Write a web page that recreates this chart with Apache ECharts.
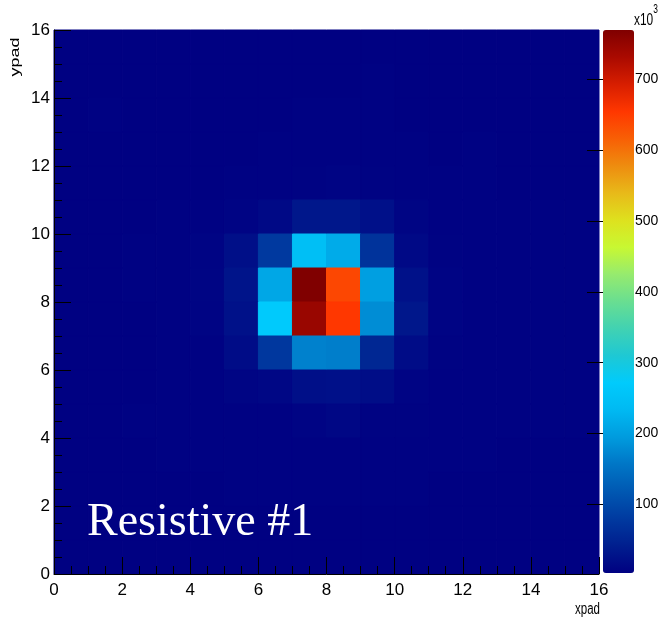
<!DOCTYPE html>
<html><head><meta charset="utf-8">
<script src="https://cdn.jsdelivr.net/npm/echarts@6/dist/echarts.min.js"></script>
<style>html,body{margin:0;padding:0;background:#fff}#c{width:660px;height:627px}</style>
</head><body><div id="c"></div><script>
// bin edges (pad index), values in units of 10^3 counts
const xBins = [0,1,2,3,4,5,6,7,8,9,10,11,12,13,14,15];
const yBins = [0,1,2,3,4,5,6,7,8,9,10,11,12,13,14,15];
// rows listed from top (ypad 15) to bottom (ypad 0); columns xpad 0..15
const row15 = [4,4,4,4,4,4,4,4,4,4,4,4,4,4,4,4];
const row14 = [4,4,4,4,4,4,4,4,4,5,4,4,4,4,4,4];
const row13 = [4,5,4,4,4,4,4,6,6,5,4,4,4,4,4,4];
const row12 = [4,4,4,4,4,4,5,6,6,5,5,4,5,4,4,4];
const row11 = [4,4,4,4,4,5,6,7,8,7,5,5,5,4,4,4];
const row10 = [4,4,4,5,5,8,15,32,33,24,10,6,6,5,5,6];
const row9  = [4,4,5,5,8,22,78,245,215,70,15,7,6,6,5,5];
const row8  = [4,4,5,5,9,28,210,770,640,200,25,8,5,5,5,5];
const row7  = [4,4,4,5,8,25,270,747,655,180,32,8,5,5,5,5];
const row6  = [4,4,4,5,6,18,76,168,165,53,18,7,5,5,5,5];
const row5  = [4,4,4,5,5,9,12,22,24,20,8,6,5,5,5,5];
const row4  = [4,4,5,5,5,5,6,8,12,7,7,5,5,5,5,5];
const row3  = [4,4,4,5,5,5,5,6,5,5,5,5,5,4,4,4];
const row2  = [4,4,4,4,4,5,5,5,5,5,5,4,4,4,4,4];
const row1  = [4,4,4,4,4,4,4,4,4,4,4,4,4,4,4,4];
const row0  = [4,4,4,4,4,4,4,4,4,4,4,4,4,4,4,4];
const rowsTopDown = [row15,row14,row13,row12,row11,row10,row9,row8,row7,row6,row5,row4,row3,row2,row1,row0];
const colorbarTicks = [100,200,300,400,500,600,700];
const zMin = 3, zMax = 770;

const palette = ['#000082','#001e8e','#003aa0','#0058b2','#0076c6','#009bde','#00b9f2','#00cbfc',
 '#1ec8d4','#41d2b2','#69de91','#96eb6e','#c8f832','#dee11e','#e8b919','#ee8c0f','#f85f05',
 '#ff3700','#d71e00','#aa0a00','#800000'];

const data = [];
rowsTopDown.forEach((row, r) => {
  const y = yBins[15 - r];
  row.forEach((v, c) => data.push([xBins[c], y, v]));
});

const font = '"Liberation Sans",Arial,sans-serif';
const chart = echarts.init(document.getElementById('c'), null, {renderer:'canvas'});
chart.setOption({
  animation: false,
  backgroundColor: '#ffffff',
  grid: [
    {left:54, top:30, width:545, height:544, containLabel:false, outerBoundsMode:'none'},
    {left:603, top:30, width:31, height:543, containLabel:false, outerBoundsMode:'none'}
  ],
  xAxis: [
    {type:'value', gridIndex:0, min:0, max:16, interval:2, z:10,
     axisLine:{show:true, onZero:false, lineStyle:{color:'#000', width:1}},
     axisTick:{show:true, inside:true, length:17, lineStyle:{color:'#000'}},
     minorTick:{show:true, splitNumber:4, length:8, lineStyle:{color:'#000'}},
     splitLine:{show:false}, minorSplitLine:{show:false},
     axisLabel:{color:'#000', fontFamily:font, fontSize:17, margin:8}},
    {type:'value', gridIndex:1, min:0, max:1, show:false}
  ],
  yAxis: [
    {type:'value', gridIndex:0, min:0, max:16, interval:2, z:10,
     axisLine:{show:true, onZero:false, lineStyle:{color:'#000', width:1}},
     axisTick:{show:true, inside:true, length:17, lineStyle:{color:'#000'}},
     minorTick:{show:true, splitNumber:4, length:8, lineStyle:{color:'#000'}},
     splitLine:{show:false}, minorSplitLine:{show:false},
     axisLabel:{color:'#000', fontFamily:font, fontSize:17, margin:4}},
    {type:'value', gridIndex:1, min:zMin, max:zMax, position:'right', z:10,
     axisLine:{show:false},
     axisTick:{show:true, inside:true, length:16, lineStyle:{color:'#000'}, customValues: colorbarTicks},
     splitLine:{show:false},
     axisLabel:{color:'#000', fontFamily:font, fontSize:14, margin:1, customValues: colorbarTicks}}
  ],
  visualMap: {
    type:'continuous', min:zMin, max:zMax, dimension:2, seriesIndex:0,
    calculable:false, orient:'vertical', left:603, top:30, padding:0,
    itemWidth:31, itemHeight:543, showLabel:false,
    inRange:{color: palette}
  },
  series: [{
    type:'custom', xAxisIndex:0, yAxisIndex:0, z:2,
    data: data,
    encode:{x:0, y:1},
    renderItem: function(params, api){
      const x = api.value(0), y = api.value(1);
      const p0 = api.coord([x, y + 1]);
      const p1 = api.coord([x + 1, y]);
      const col = api.visual('color');
      return {type:'rect', shape:{x:p0[0], y:p0[1], width:p1[0]-p0[0], height:p1[1]-p0[1]},
              style:{fill:col, stroke:col, lineWidth:1}};
    }
  }],
  graphic: [
    {type:'text', left:87, top:500, z:100,
     style:{text:'Resistive #1', fill:'#fff', fontFamily:'"Liberation Serif","Times New Roman",serif', fontSize:46}},
    {type:'text', x:16, y:57, rotation:Math.PI/2, scaleY:0.7, z:100,
     style:{text:'ypad', fill:'#000', fontFamily:font, fontSize:18, align:'center', verticalAlign:'middle'}},
    {type:'text', x:600, y:610, scaleX:0.72, z:100,
     style:{text:'xpad', fill:'#000', fontFamily:font, fontSize:16, align:'right', verticalAlign:'middle'}},
    {type:'text', x:634, y:4, scaleX:0.7, z:100,
     style:{text:'{a|x10}{s|3}', rich:{
        a:{fontFamily:font, fontSize:17, fill:'#000', padding:[8,0,0,0]},
        s:{fontFamily:font, fontSize:12, fill:'#000', verticalAlign:'top'}}}}
  ]
});
</script></body></html>
